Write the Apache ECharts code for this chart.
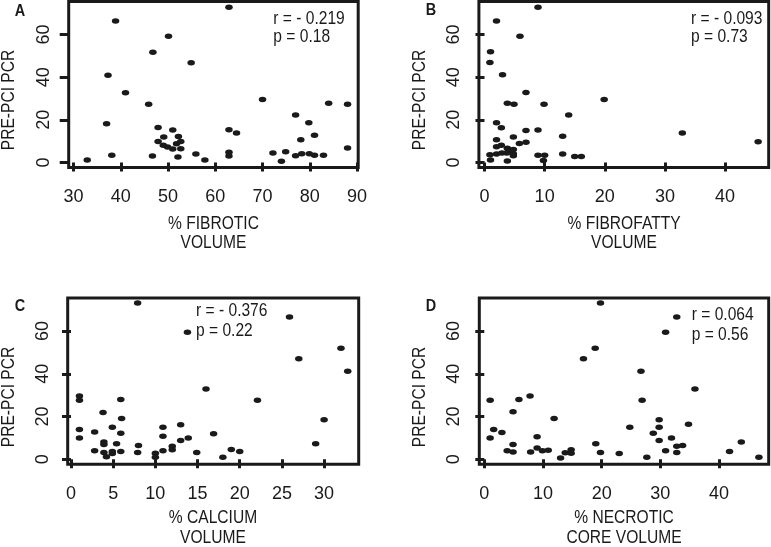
<!DOCTYPE html>
<html><head><meta charset="utf-8">
<script src="https://cdn.jsdelivr.net/npm/echarts@6/dist/echarts.min.js"></script>
<style>html,body{margin:0;padding:0;background:#fff}#c{width:771px;height:547px}</style>
</head><body><div id="c"></div>
<script>
const FONT = '"Liberation Sans", Arial, sans-serif';
const INK = '#1a1a1a';

// tick labels
const yTicks = [0, 20, 40, 60];
const fibroticTicks = [30, 40, 50, 60, 70, 80, 90];
const fibrofattyTicks = [0, 10, 20, 30, 40];
const calciumTicks = [0, 5, 10, 15, 20, 25, 30];
const necroticTicks = [0, 10, 20, 30, 40];

// Panel A: % fibrotic volume vs PRE-PCI PCR
const fibroticX = [32.9,38.9,37.3,41.0,37.0,38.1,46.8,50.1,45.9,54.9,62.9,47.9,46.7,47.9,49.1,49.0,49.9,51.0,51.0,52.2,51.8,52.7,52.7,52.1,55.9,57.8,62.9,64.5,62.9,62.9,70.0,72.2,74.0,74.9,77.0,77.0,78.1,78.3,79.8,79.9,81.0,81.0,82.9,84.0,88.0,88.0];
const fibroticY = [1.1,66.4,40.9,32.7,18.1,3.4,51.7,59.2,27.3,46.7,72.8,16.4,3.0,9.8,11.9,8.0,7.2,15.2,6.3,12.2,8.8,9.8,6.4,2.5,3.9,1.1,15.3,13.8,4.7,3.0,29.5,4.4,0.5,5.0,22.2,3.1,10.6,4.1,18.6,4.1,12.7,3.4,3.4,27.8,27.3,6.7];

// Panel B: % fibrofatty volume
const fibrofattyX = [8.9,2.0,5.9,1.0,0.9,3.0,6.9,3.8,4.9,9.9,19.9,14.0,2.0,2.8,6.9,8.9,2.0,4.8,13.0,32.9,45.5,6.9,5.8,2.0,2.8,3.8,4.0,4.8,4.4,0.9,2.0,2.9,3.7,4.8,4.8,8.9,10.0,13.0,15.0,16.1,1.0,3.8,9.8];
const fibrofattyY = [72.8,66.3,59.2,51.9,46.9,41.1,32.8,27.7,27.3,27.3,29.5,22.2,18.6,16.3,15.0,15.2,10.6,11.9,12.3,13.8,9.7,9.5,8.9,7.3,8.0,6.6,5.8,6.1,5.2,3.6,3.9,4.4,4.4,4.1,3.1,3.4,3.4,3.9,2.8,2.8,1.1,0.6,0.9];

// Panel C: % calcium volume
const calciumX = [7.9,25.9,13.8,32.0,27.0,32.8,16.0,1.0,1.0,5.9,22.1,3.8,6.0,30.0,1.0,2.8,4.9,5.9,13.0,10.9,16.9,10.9,1.0,3.9,3.9,5.4,8.0,13.9,13.0,12.0,12.0,29.0,2.8,3.9,4.9,4.9,5.9,4.2,7.9,10.0,10.0,10.9,14.9,18.0,19.0,20.0];
const calciumY = [73.2,66.6,59.5,52.0,47.0,41.2,32.9,29.6,27.6,28.0,27.6,21.9,19.0,18.5,13.9,12.7,15.0,12.2,16.1,15.0,11.9,10.7,9.9,8.1,6.9,7.2,6.4,9.9,8.8,6.1,4.4,7.2,3.9,3.1,3.6,2.7,3.6,1.1,3.1,2.8,0.9,3.9,3.1,0.9,4.5,3.6];

// Panel D: % necrotic core volume
const necroticX = [19.8,32.8,30.9,18.9,16.9,26.7,35.9,1.0,5.9,7.8,26.9,4.9,11.9,29.8,1.6,3.0,1.0,24.8,29.8,34.8,28.8,9.0,31.9,29.8,4.9,19.0,43.8,32.8,33.8,3.9,4.9,7.9,9.0,9.9,10.9,13.8,14.8,14.8,13.0,19.8,23.0,27.7,30.9,32.8,41.8,46.8];
const necroticY = [73.2,66.6,59.5,52.0,47.0,41.2,32.9,27.6,28.0,29.6,27.6,22.2,19.0,18.5,13.9,12.5,9.9,15.0,15.0,16.4,12.1,10.5,9.9,8.8,6.9,7.2,8.0,6.1,6.4,3.9,3.4,3.4,5.2,3.9,4.2,3.0,4.4,2.8,0.6,3.1,2.7,0.9,3.9,3.1,3.6,0.9];

const panels = [
  {letter:'A', x:fibroticX, y:fibroticY, ticks:fibroticTicks, min:28.98, max:90.25,
   grid:{left:68.7, top:1.5, width:289.5, height:166},
   xname:['% FIBROTIC','VOLUME'], r:'r = - 0.219', p:'p = 0.18'},
  {letter:'B', x:fibrofattyX, y:fibrofattyY, ticks:fibrofattyTicks, min:-0.93, max:47.26,
   grid:{left:478.9, top:1.5, width:289.8, height:166},
   xname:['% FIBROFATTY','VOLUME'], r:'r = - 0.093', p:'p = 0.73'},
  {letter:'C', x:calciumX, y:calciumY, ticks:calciumTicks, min:-0.39, max:34.1,
   grid:{left:67.7, top:298, width:291, height:166.3},
   xname:['% CALCIUM','VOLUME'], r:'r = - 0.376', p:'p = 0.22'},
  {letter:'D', x:necroticX, y:necroticY, ticks:necroticTicks, min:-0.85, max:48.47,
   grid:{left:479.3, top:298, width:289.4, height:166.3},
   xname:['% NECROTIC','CORE VOLUME'], r:'r = 0.064', p:'p = 0.56'}
];
// text anchor positions per panel
const textPos = [
  {letter:[20,11.5], yname:[8.5,100], xname:[213.5,223.7], r:[273.3,18.3], p:[273.3,36.7]},
  {letter:[431,10.5], yname:[420,100], xname:[624,223.7], r:[691,18.3], p:[691,36.7]},
  {letter:[20,306.7], yname:[8.5,397], xname:[213,518], r:[196,310.8], p:[196,330.8]},
  {letter:[431,306.7], yname:[419.5,397], xname:[624,518], r:[691.7,315], p:[691.7,334.5]}
];
const NARROW = 0.82;

const grids = [], xAxes = [], yAxes = [], series = [], graphics = [];
function txt(x, y, text, align, extra) {
  return Object.assign({type:'text', x:x, y:y, scaleX:NARROW, silent:true,
    style:{text:text, fontFamily:FONT, fontSize:19, fill:INK, align:align, verticalAlign:'middle'}}, extra || {});
}
panels.forEach((pn, i) => {
  grids.push(Object.assign({show:true, borderColor:INK, borderWidth:3, backgroundColor:'transparent', containLabel:false}, pn.grid));
  xAxes.push({type:'value', gridIndex:i, min:pn.min, max:pn.max,
    axisLine:{show:false}, splitLine:{show:false},
    axisTick:{show:true, customValues:pn.ticks, length:9, lineStyle:{color:INK, width:3}},
    axisLabel:{customValues:pn.ticks, fontFamily:FONT, fontSize:18, color:INK, margin:21}});
  yAxes.push({type:'value', gridIndex:i, min:-2.4, max:75.5,
    axisLine:{show:false}, splitLine:{show:false},
    axisTick:{show:true, customValues:yTicks, length:9, lineStyle:{color:INK, width:3}},
    axisLabel:{customValues:yTicks, rotate:90, fontFamily:FONT, fontSize:18, color:INK, margin:16}});
  series.push({type:'scatter', xAxisIndex:i, yAxisIndex:i, symbol:'circle', symbolSize:[7.5,5.5],
    itemStyle:{color:INK, opacity:1}, silent:true,
    data: pn.x.map((v, k) => [v, pn.y[k]])});
  const tp = textPos[i];
  graphics.push({type:'text', x:tp.letter[0], y:tp.letter[1], scaleX:0.85, silent:true,
    style:{text:pn.letter, fontFamily:FONT, fontWeight:'bold', fontSize:17, fill:INK, align:'center', verticalAlign:'middle'}});
  graphics.push(txt(tp.yname[0], tp.yname[1], 'PRE-PCI PCR', 'center', {rotation:Math.PI/2}));
  graphics.push(txt(tp.xname[0], tp.xname[1], pn.xname[0], 'center'));
  graphics.push(txt(tp.xname[0], tp.xname[1] + 19.5, pn.xname[1], 'center'));
  graphics.push(txt(tp.r[0], tp.r[1], pn.r, 'left'));
  graphics.push(txt(tp.p[0], tp.p[1], pn.p, 'left'));
});

const chart = echarts.init(document.getElementById('c'), null, {renderer:'canvas'});
chart.setOption({animation:false, backgroundColor:'#fff', grid:grids, xAxis:xAxes, yAxis:yAxes, series:series, graphic:graphics});
</script></body></html>
